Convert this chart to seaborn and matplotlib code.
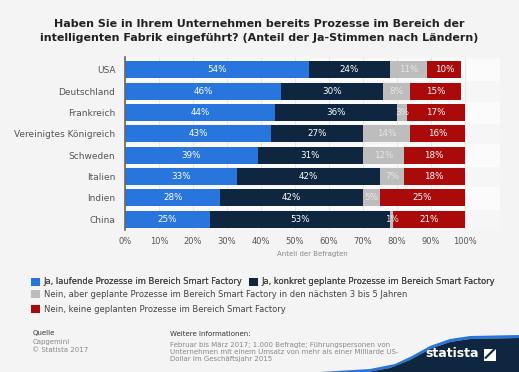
import numpy as np
import pandas as pd
import matplotlib
matplotlib.use('Agg')
import matplotlib.pyplot as plt
from matplotlib.patches import Patch, Polygon
import seaborn as sns

# Data
countries = ['USA', 'Deutschland', 'Frankreich', 'Vereinigtes Königreich',
             'Schweden', 'Italien', 'Indien', 'China']
laufend = [54, 46, 44, 43, 39, 33, 28, 25]
konkret = [24, 30, 36, 27, 31, 42, 42, 53]
geplant = [11, 8, 3, 14, 12, 7, 5, 1]
keine = [10, 15, 17, 16, 18, 18, 25, 21]

series_names = ['Ja, laufende Prozesse im Bereich Smart Factory',
                'Ja, konkret geplante Prozesse im Bereich Smart Factory',
                'Nein, aber geplante Prozesse im Bereich Smart Factory in den nächsten 3 bis 5 Jahren',
                'Nein, keine geplanten Prozesse im Bereich Smart Factory']
colors = ['#2876dd', '#0f2640', '#bdbdbd', '#ab0a0a']
label_colors = ['white', 'white', '#e6e6e6', 'white']
xticks = [0, 10, 20, 30, 40, 50, 60, 70, 80, 90, 100]

sns.set_theme(style='white')
plt.rcParams['font.family'] = ['DejaVu Sans']

df = pd.DataFrame({'country': countries, 'laufend': laufend, 'konkret': konkret,
                   'geplant': geplant, 'keine': keine})
cols = ['laufend', 'konkret', 'geplant', 'keine']
cum = df[cols].cumsum(axis=1)
starts = cum - df[cols]

fig = plt.figure(figsize=(5.19, 3.72), dpi=100, facecolor='#f4f4f4')
ax = fig.add_axes([0.241, 0.382, 0.722, 0.465])
ax.set_facecolor('#f6f6f6')

# alternating row bands
for i in range(len(countries)):
    if i % 2 == 0:
        ax.axhspan(i - 0.5, i + 0.5, color='#fbfbfb', zorder=0)

for x in xticks:
    ax.axvline(x, color='#e4e4e4', lw=0.6, zorder=0.5)

# stacked bars: draw cumulative totals from the right
for k in range(len(cols) - 1, -1, -1):
    plot_df = pd.DataFrame({'country': countries, 'val': cum[cols[k]]})
    sns.barplot(data=plot_df, x='val', y='country', orient='h', color=colors[k],
                saturation=1, width=0.8, ax=ax, zorder=2, linewidth=0)

for k, c in enumerate(cols):
    for i in range(len(countries)):
        v = df[c].iloc[i]
        xc = starts[c].iloc[i] + v / 2
        ax.text(xc, i, f'{v}%', ha='center', va='center', fontsize=6.3,
                color=label_colors[k], zorder=3)

ax.set_xlim(0, 110.3)
ax.set_ylim(len(countries) - 0.5, -0.6)
ax.set_xticks(xticks)
ax.set_xticklabels([f'{x}%' for x in xticks], fontsize=6, color='#555555')
ax.tick_params(axis='y', labelsize=6.5, labelcolor='#555555', length=0, pad=7)
ax.tick_params(axis='x', length=0, pad=5)
ax.set_ylabel('')
ax.set_xlabel('Anteil der Befragten', fontsize=5, color='#888888', labelpad=4)
for s in ['top', 'right', 'bottom']:
    ax.spines[s].set_visible(False)
ax.spines['left'].set_color('#666666')
ax.spines['left'].set_linewidth(1.2)
ax.spines['left'].set_zorder(4)

fig.text(0.5, 0.95, 'Haben Sie in Ihrem Unternehmen bereits Prozesse im Bereich der\n'
         'intelligenten Fabrik eingeführt? (Anteil der Ja-Stimmen nach Ländern)',
         ha='center', va='top', fontsize=8, fontweight='bold', color='#222222',
         linespacing=1.5)

# legend
handles = [Patch(facecolor=colors[k], edgecolor='none', label=series_names[k]) for k in range(4)]
leg1 = fig.legend(handles=handles[:2], ncol=2, loc='upper left',
                  bbox_to_anchor=(0.060, 0.2543), frameon=False, fontsize=6,
                  handlelength=1.1, handleheight=1.1, handletextpad=0.4,
                  columnspacing=0.8, labelcolor='#444444', borderaxespad=0, borderpad=0)
fig.legend(handles=handles[2:], ncol=1, loc='upper left',
           bbox_to_anchor=(0.060, 0.220), frameon=False, fontsize=6,
           handlelength=1.1, handleheight=1.1, handletextpad=0.4,
           labelspacing=0.7, labelcolor='#444444', borderaxespad=0, borderpad=0)
fig.add_artist(leg1)

# footer
fig.text(0.062, 0.105, 'Quelle', fontsize=5, color='#333333', va='center')
fig.text(0.062, 0.081, 'Capgemini', fontsize=5, color='#888888', va='center')
fig.text(0.062, 0.058, '© Statista 2017', fontsize=5, color='#888888', va='center')
fig.text(0.327, 0.102, 'Weitere Informationen:', fontsize=5, color='#333333', va='center')
fig.text(0.327, 0.055, 'Februar bis März 2017; 1.000 Befragte; Führungspersonen von\n'
         'Unternehmen mit einem Umsatz von mehr als einer Milliarde US-\n'
         'Dollar im Geschäftsjahr 2015', fontsize=5, color='#888888', va='center',
         linespacing=1.2)

# logo shape
W, H = 519, 372
dark = [(368, 372), (390, 368), (410, 360), (430, 349), (450, 342), (470, 339),
        (519, 338), (519, 372)]
blue = [(320, 372), (370, 369), (395, 364), (412, 356), (430, 346), (450, 339),
        (470, 336), (519, 335)] + dark[::-1][1:]


def to_fig(pts):
    return [(x / W, 1 - y / H) for x, y in pts]


fig.add_artist(Polygon(to_fig(blue), closed=True, transform=fig.transFigure,
                       facecolor='#2876dd', edgecolor='none'))
fig.add_artist(Polygon(to_fig(dark), closed=True, transform=fig.transFigure,
                       facecolor='#0f2640', edgecolor='none'))
fig.text(0.872, 0.049, 'statista', fontsize=9, fontweight='bold', color='white',
         ha='center', va='center')
fig.add_artist(Polygon(to_fig([(484, 361), (496, 361), (496, 349), (484, 349)]), closed=True,
                       transform=fig.transFigure, facecolor='white', edgecolor='none'))
fig.add_artist(Polygon(to_fig([(484, 358), (493, 349), (496, 349), (486, 359)]), closed=True,
                       transform=fig.transFigure, facecolor='#0f2640', edgecolor='none'))

fig.savefig('out.png', dpi=100, facecolor=fig.get_facecolor())
